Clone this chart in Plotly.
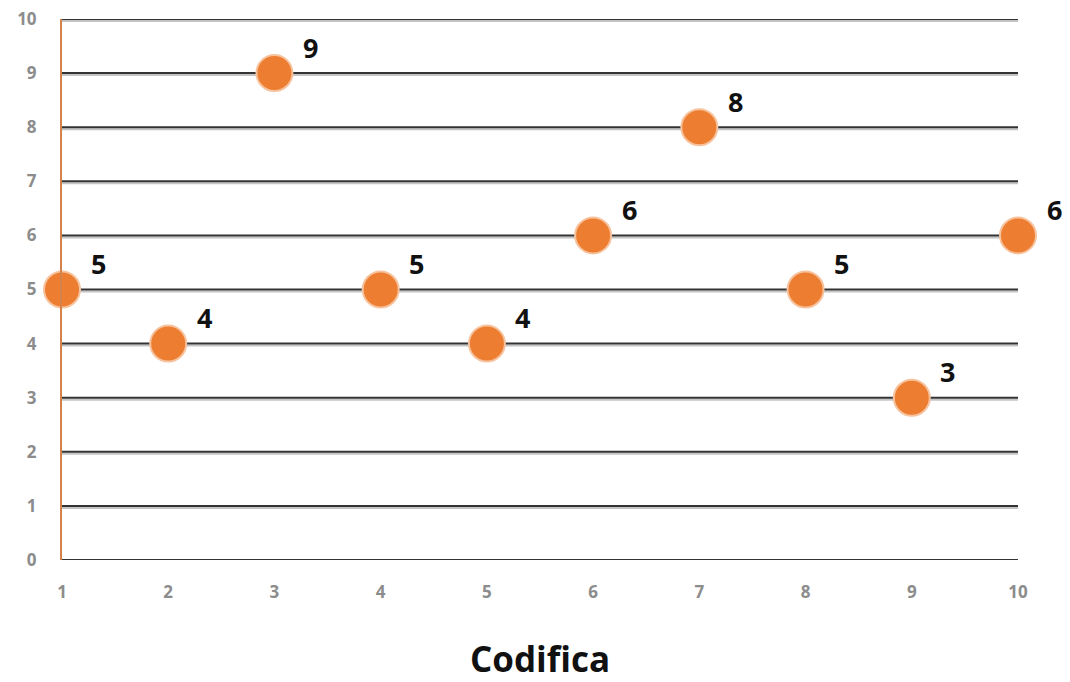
import plotly.graph_objects as go

# Codifica values for items 1..10
codifica = [1, 2, 3, 4, 5, 6, 7, 8, 9, 10]
valori = [5, 4, 9, 5, 4, 6, 8, 5, 3, 6]
y_ticks = list(range(0, 11))

fig = go.Figure()

fig.add_trace(go.Scatter(
    x=codifica,
    y=valori,
    mode="markers",
    marker=dict(size=36, color="#ED7D31", line=dict(color="#F6C39E", width=2)),
    cliponaxis=False,
    hoverinfo="skip",
    showlegend=False,
))

# value labels offset up and to the right of each point
for xv, yv in zip(codifica, valori):
    fig.add_annotation(
        x=xv, y=yv, text=f"<b>{yv}</b>", showarrow=False,
        xshift=36, yshift=26,
        font=dict(family="Open Sans", size=27, color="#111111"),
    )

# horizontal grid: dark line with a soft grey shadow just beneath
for t in y_ticks:
    fig.add_shape(type="rect", xref="paper", yref="y", x0=0, x1=1,
                  ysizemode="pixel", yanchor=t, y0=-1, y1=-3,
                  fillcolor="#c4c4c4", line=dict(width=0), layer="below")
    fig.add_shape(type="rect", xref="paper", yref="y", x0=0, x1=1,
                  ysizemode="pixel", yanchor=t, y0=1, y1=-1,
                  fillcolor="#333333", line=dict(width=0), layer="below")

fig.update_layout(
    width=1070, height=682,
    margin=dict(l=62, r=52, t=19, b=122),
    plot_bgcolor="white", paper_bgcolor="white",
    xaxis=dict(
        range=[1, 10], tickvals=codifica, ticktext=[f"<b>{c}</b>" for c in codifica],
        showgrid=False, zeroline=False, showline=False, ticks="",
        automargin=False,
        tickfont=dict(family="Open Sans", size=17, color="#8c8c8c"),
        ticklabelstandoff=20,
        title=dict(text="<b>Codifica</b>", font=dict(family="Open Sans", size=35, color="#111111"),
                   standoff=46),
    ),
    yaxis=dict(
        range=[0, 10], tickvals=y_ticks, ticktext=[f"<b>{t}</b>" for t in y_ticks],
        showgrid=False, zeroline=False, showline=True, linecolor="#D4814A", linewidth=2,
        ticks="", ticklabelstandoff=20, automargin=False,
        tickfont=dict(family="Open Sans", size=17, color="#8c8c8c"),
    ),
)

fig.write_html("out.html")
